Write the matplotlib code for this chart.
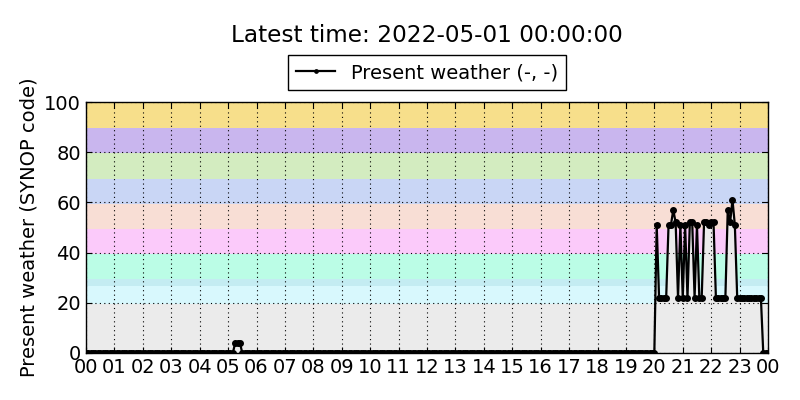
import numpy as np
import pandas as pd
import matplotlib
matplotlib.use('Agg')
import matplotlib.pyplot as plt
import matplotlib.dates as mdates

# observations every 5 minutes, 2022-04-30 00:00 .. 2022-05-01 00:00
times = pd.date_range('2022-04-30 00:00', '2022-05-01 00:00', freq='5min')

# present weather readings that are not 0 (rest of the day reads 0)
smoke_times = ['05:15', '05:20', '05:25']
smoke_vals = [4, 4, 4]

evening_times = pd.date_range('2022-04-30 20:00', '2022-04-30 23:55', freq='5min')
evening_vals = [0, 51, 22, 22, 22, 22, 51, 51, 57, 52, 22, 51,
                22, 51, 22, 52, 52, 22, 51, 22, 22, 52, 52, 51,
                52, 52, 22, 22, 22, 22, 22, 57, 52, 61, 51, 22,
                22, 22, 22, 22, 22, 22, 22, 22, 22, 22, 0, 0]

ww = pd.Series(0.0, index=times)
for t, v in zip(smoke_times, smoke_vals):
    ww[pd.Timestamp('2022-04-30 ' + t)] = v
ww[evening_times] = evening_vals

# SYNOP code groups shaded in the background
band_edges = [0, 19.5, 26.5, 29.3, 39.5, 49.5, 59.5, 69.5, 79.5, 89.5, 100]
band_colors = ['#ebebeb', '#d8f8fd', '#c4ecf2', '#bbfde6', '#fbcafa',
               '#f8ded5', '#c9d6f5', '#d3ecc0', '#c9b6ee', '#f7df8b']

fig = plt.figure(figsize=(8, 4), dpi=100)
ax = fig.add_axes([0.1075, 0.1175, 0.8525, 0.6275])

for lo, hi, c in zip(band_edges[:-1], band_edges[1:], band_colors):
    ax.axhspan(lo, hi, color=c, lw=0, zorder=0)

ax.fill_between(ww.index, 0, ww.values, color='#ebebeb', lw=0, zorder=1)
ax.plot(ww.index, ww.values, color='black', marker='o', markersize=4,
        linewidth=1.6, label='Present weather (-, -)', zorder=3)

ax.set_xlim(times[0], times[-1])
ax.set_ylim(0, 100)
ax.xaxis.set_major_locator(mdates.HourLocator(interval=1))
ax.xaxis.set_major_formatter(mdates.DateFormatter('%H'))
ax.set_yticks([0, 20, 40, 60, 80, 100])
ax.tick_params(labelsize=14, direction='in', top=True, right=True, length=4)
ax.grid(True, color='black', linestyle=(0, (1, 3)), linewidth=0.8)
ax.set_axisbelow(False)
for s in ax.spines.values():
    s.set_linewidth(1.0)
    s.set_zorder(4)

ax.set_ylabel('Present weather (SYNOP code)', fontsize=14)
ax.text(0.5, 1 + 67 / 251, 'Latest time: 2022-05-01 00:00:00',
        transform=ax.transAxes, ha='center', va='center', fontsize=16.7)
leg = ax.legend(loc='lower center', bbox_to_anchor=(0.5, 1.048), fontsize=14,
                numpoints=1, markerscale=0.6, fancybox=False, framealpha=1,
                edgecolor='black', handlelength=2.0, borderaxespad=0)
leg.get_frame().set_linewidth(1.0)

fig.savefig('out.png', dpi=100)
